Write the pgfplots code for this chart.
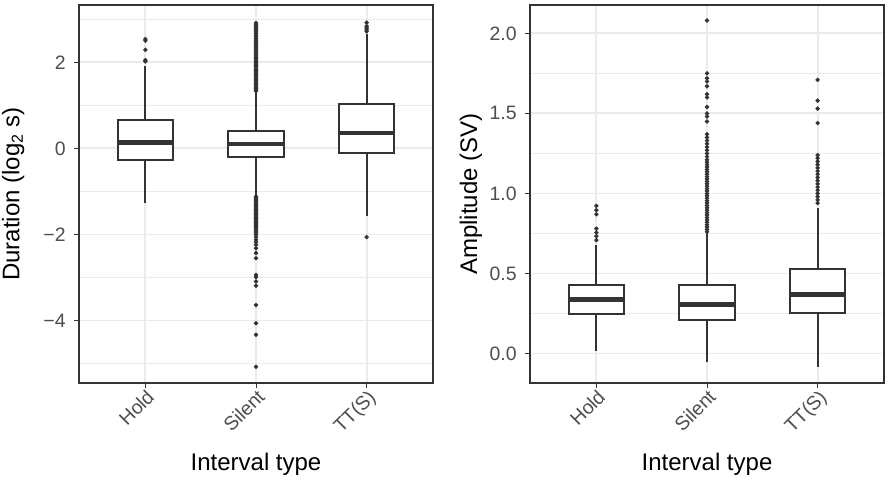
\documentclass[border=0pt]{standalone}
\usepackage{pgfplots}
\pgfplotsset{compat=1.18}
\usepgfplotslibrary{statistics}
\usepackage{fontspec}
\setmainfont{Liberation Sans}
\definecolor{g20}{HTML}{333333}
\definecolor{g30}{HTML}{4D4D4D}
\definecolor{g92}{HTML}{EBEBEB}
\newcommand{\labfont}{\fontsize{12}{14}\selectfont}
\pgfplotsset{
 myax/.style={
  scale only axis, width=177pt, height=189pt,
  xmin=0.4, xmax=3.6,
  xtick={1,2,3}, xticklabels={Hold,Silent,TT(S)},
  tick align=outside, tickpos=left, major tick length=2.5pt, minor tick length=0pt,
  tick style={g20, line width=0.5pt},
  axis line style={g20, line width=0.55pt},
  xmajorgrids, ymajorgrids, yminorgrids,
  major grid style={g92, line width=0.9pt},
  minor grid style={g92, line width=0.45pt},
  ticklabel style={font=\fontsize{9.7}{10}\selectfont, text=g30},
  xticklabel style={rotate=45, anchor=north east, inner sep=0pt},
  yticklabel style={anchor=east, inner sep=0pt, xshift=-4pt},
  every axis x label/.style={at={(rel axis cs:0.5,-0.232)}, anchor=base, font=\labfont},
  xlabel={Interval type},
  boxplot/draw direction=y,
  boxplot/box extend=0.5,
  boxplot/whisker extend=0,
  boxplot/every box/.style={draw=g20, fill=white, line width=1pt},
  boxplot/every whisker/.style={draw=g20, line width=1pt},
  boxplot/every median/.style={draw=g20, line width=2.3pt},
 },
 bx/.style={g20, mark=*, mark size=0.9pt, mark options={fill=g20, draw=none}},
}
\begin{document}
\begin{tikzpicture}
\path[use as bounding box] (0,0) rectangle (446.5pt,239.5pt);
% ---------- left panel: duration ----------
\begin{axis}[myax, at={(39.5pt,48pt)}, anchor=south west,
  ymin=-5.45, ymax=3.33,
  ytick={-4,-2,0,2}, yticklabels={−4,−2,0,2},
  minor ytick={-5,-3,-1,1,3},
  every axis y label/.style={at={(rel axis cs:-0.1686,0.5)}, anchor=base, rotate=90, font=\labfont},
  ylabel={Duration (log\textsubscript{2} s)}]
\addplot[bx, boxplot prepared={draw position=1, lower whisker=-1.27, lower quartile=-0.27, median=0.14, upper quartile=0.65, upper whisker=1.91}]
 coordinates {(0,2.02)(0,2.05)(0,2.29)(0,2.50)(0,2.54)};
\addplot[bx, boxplot prepared={draw position=2, lower whisker=-1.10, lower quartile=-0.19, median=0.10, upper quartile=0.41, upper whisker=1.31}]
 coordinates {(0,1.33)(0,1.36)(0,1.39)(0,1.42)(0,1.45)(0,1.48)(0,1.51)(0,1.54)(0,1.57)(0,1.60)(0,1.63)(0,1.66)(0,1.69)(0,1.72)(0,1.75)(0,1.78)(0,1.81)(0,1.84)(0,1.87)(0,1.90)(0,1.93)(0,1.96)(0,1.99)(0,2.02)(0,2.05)(0,2.08)(0,2.11)(0,2.15)(0,2.19)(0,2.23)(0,2.27)(0,2.31)(0,2.35)(0,2.39)(0,2.43)(0,2.47)(0,2.51)(0,2.55)(0,2.59)(0,2.63)(0,2.67)(0,2.71)(0,2.75)(0,2.79)(0,2.83)(0,2.87)(0,2.91)
 (0,-1.12)(0,-1.15)(0,-1.18)(0,-1.21)(0,-1.24)(0,-1.27)(0,-1.30)(0,-1.33)(0,-1.36)(0,-1.39)(0,-1.42)(0,-1.45)(0,-1.48)(0,-1.51)(0,-1.54)(0,-1.57)(0,-1.60)(0,-1.63)(0,-1.66)(0,-1.69)(0,-1.72)(0,-1.75)(0,-1.78)(0,-1.81)(0,-1.84)(0,-1.87)(0,-1.92)(0,-1.96)(0,-2.00)(0,-2.06)(0,-2.12)(0,-2.18)(0,-2.24)(0,-2.32)(0,-2.43)(0,-2.55)(0,-2.94)(0,-2.99)(0,-3.09)(0,-3.19)(0,-3.64)(0,-4.06)(0,-4.33)(0,-5.07)};
\addplot[bx, boxplot prepared={draw position=3, lower whisker=-1.58, lower quartile=-0.11, median=0.36, upper quartile=1.02, upper whisker=2.66}]
 coordinates {(0,2.72)(0,2.76)(0,2.80)(0,2.84)(0,2.92)(0,-2.06)};
\end{axis}
% ---------- right panel: amplitude ----------
\begin{axis}[myax, at={(265pt,48pt)}, anchor=south west,
  ymin=-0.184, ymax=2.177,
  ytick={0,0.5,1,1.5,2}, yticklabels={0.0,0.5,1.0,1.5,2.0},
  minor ytick={0.25,0.75,1.25,1.75},
  every axis y label/.style={at={(rel axis cs:-0.1496,0.5)}, anchor=base, rotate=90, font=\labfont},
  ylabel={Amplitude (SV)}]
\addplot[bx, boxplot prepared={draw position=1, lower whisker=0.017, lower quartile=0.25, median=0.3375, upper quartile=0.431, upper whisker=0.677}]
 coordinates {(0,0.708)(0,0.733)(0,0.756)(0,0.780)(0,0.870)(0,0.896)(0,0.922)};
\addplot[bx, boxplot prepared={draw position=2, lower whisker=-0.052, lower quartile=0.2125, median=0.308, upper quartile=0.431, upper whisker=0.75}]
 coordinates {(0,0.760)(0,0.775)(0,0.790)(0,0.805)(0,0.820)(0,0.835)(0,0.850)(0,0.865)(0,0.880)(0,0.895)(0,0.910)(0,0.925)(0,0.940)(0,0.955)(0,0.970)(0,0.985)(0,1.000)(0,1.015)(0,1.030)(0,1.045)(0,1.060)(0,1.075)(0,1.090)(0,1.105)(0,1.120)(0,1.135)(0,1.150)(0,1.165)(0,1.180)(0,1.195)(0,1.210)(0,1.23)(0,1.25)(0,1.27)(0,1.29)(0,1.31)(0,1.33)(0,1.35)(0,1.37)(0,1.45)(0,1.48)(0,1.50)(0,1.54)(0,1.60)(0,1.62)(0,1.67)(0,1.70)(0,1.72)(0,1.75)(0,2.08)};
\addplot[bx, boxplot prepared={draw position=3, lower whisker=-0.083, lower quartile=0.254, median=0.369, upper quartile=0.525, upper whisker=0.906}]
 coordinates {(0,0.94)(0,0.96)(0,0.98)(0,1.00)(0,1.02)(0,1.04)(0,1.06)(0,1.08)(0,1.10)(0,1.12)(0,1.14)(0,1.16)(0,1.18)(0,1.20)(0,1.22)(0,1.24)(0,1.44)(0,1.53)(0,1.58)(0,1.71)};
\end{axis}
\end{tikzpicture}
\end{document}
